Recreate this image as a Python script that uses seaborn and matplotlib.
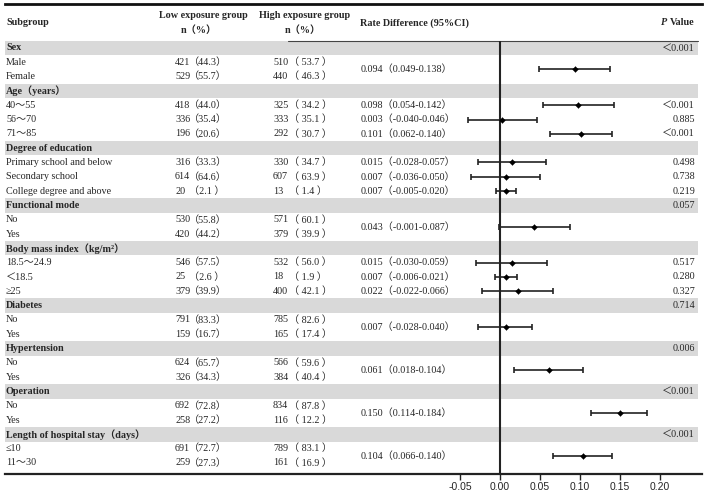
import numpy as np
import pandas as pd
import matplotlib
matplotlib.use('Agg')
import matplotlib.pyplot as plt
import seaborn as sns

# %% Dados da tabela
grupos = ['Sex', 'Age（years）', 'Degree of education', 'Functional mode',
          'Body mass index（kg/m²）', 'Diabetes', 'Hypertension', 'Operation',
          'Length of hospital stay（days）']
niveis = [['Male', 'Female'],
          ['40～55', '56～70', '71～85'],
          ['Primary school and below', 'Secondary school', 'College degree and above'],
          ['No', 'Yes'],
          ['18.5～24.9', '＜18.5', '≥25'],
          ['No', 'Yes'],
          ['No', 'Yes'],
          ['No', 'Yes'],
          ['≤10', '11～30']]

low_n = [421, 529, 418, 336, 196, 316, 614, 20, 530, 420, 546, 25, 379,
         791, 159, 624, 326, 692, 258, 691, 259]
low_pct = [44.3, 55.7, 44.0, 35.4, 20.6, 33.3, 64.6, 2.1, 55.8, 44.2, 57.5, 2.6, 39.9,
           83.3, 16.7, 65.7, 34.3, 72.8, 27.2, 72.7, 27.3]
high_n = [510, 440, 325, 333, 292, 330, 607, 13, 571, 379, 532, 18, 400,
          785, 165, 566, 384, 834, 116, 789, 161]
high_pct = [53.7, 46.3, 34.2, 35.1, 30.7, 34.7, 63.9, 1.4, 60.1, 39.9, 56.0, 1.9, 42.1,
            82.6, 17.4, 59.6, 40.4, 87.8, 12.2, 83.1, 16.9]

# diferenca de taxas: uma por grupo binario, uma por nivel nos outros
rd_est = [0.094, 0.098, 0.003, 0.101, 0.015, 0.007, 0.007, 0.043,
          0.015, 0.007, 0.022, 0.007, 0.061, 0.150, 0.104]
rd_low = [0.049, 0.054, -0.040, 0.062, -0.028, -0.036, -0.005, -0.001,
          -0.030, -0.006, -0.022, -0.028, 0.018, 0.114, 0.066]
rd_high = [0.138, 0.142, 0.046, 0.140, 0.057, 0.050, 0.020, 0.087,
           0.059, 0.021, 0.066, 0.040, 0.104, 0.184, 0.140]
p_txt = ['＜0.001', '＜0.001', '0.885', '＜0.001', '0.498', '0.738', '0.219', '0.057',
         '0.517', '0.280', '0.327', '0.714', '0.006', '＜0.001', '＜0.001']

xticks = [-0.05, 0.00, 0.05, 0.10, 0.15, 0.20]

# %% Montando as linhas
linhas = []      # (row, texto, negrito)
header_rows = []
lvl_rows = []
rd_rows = []
p_rows = []
r = 0
for g, lv in zip(grupos, niveis):
    linhas.append((r, g, True))
    header_rows.append(r)
    hr = r
    r += 1
    rows_g = []
    for nome in lv:
        linhas.append((r, nome, False))
        lvl_rows.append(r)
        rows_g.append(r)
        r += 1
    if len(lv) == 2:
        rd_rows.append(np.mean(rows_g))
        p_rows.append(hr)
    else:
        rd_rows.extend(rows_g)
        p_rows.extend(rows_g)

df_rd = pd.DataFrame({'row': rd_rows, 'est': rd_est, 'lo': rd_low, 'hi': rd_high})

# %% Plot
sns.set_theme(style='white')
plt.rcParams['font.family'] = ['Liberation Serif', 'Noto Sans CJK SC']

W, H = 708, 496
fig = plt.figure(figsize=(W / 100, H / 100), dpi=100)
x0, x1, y0, y1 = 5, 702, 4, 474
ax = fig.add_axes([x0 / W, 1 - y1 / H, (x1 - x0) / W, (y1 - y0) / H])

zero_px, per_unit = 500, 800
ax.set_xlim((x0 - zero_px) / per_unit, (x1 - zero_px) / per_unit)
row0_px, row_h = 48, 14.31
ax.set_ylim((y1 - row0_px) / row_h, (y0 - row0_px) / row_h)

def fx(px):
    return (px - x0) / (x1 - x0)

def fr(px):
    return (px - row0_px) / row_h

tr = ax.get_yaxis_transform()

# faixas cinzas
xl = ax.get_xlim()
ax.barh(header_rows, (698 - zero_px) / per_unit - xl[0], left=xl[0], height=1.0,
        color='#d9d9d9', edgecolor='none', zorder=0)
ax.plot([fx(288), fx(698)], [-0.5, -0.5], transform=tr, color='#444444', lw=0.8, zorder=1)

# linha vertical no zero
ax.vlines(0, -0.5, ax.get_ylim()[0], color='#222222', lw=1.5, zorder=2)

# intervalos de confianca
ax.errorbar(df_rd['est'], df_rd['row'],
            xerr=[df_rd['est'] - df_rd['lo'], df_rd['hi'] - df_rd['est']],
            fmt='none', ecolor='#222222', elinewidth=1.2, capsize=2.2, capthick=1.2, zorder=3)
sns.scatterplot(data=df_rd, x='est', y='row', marker='D', s=9, color='black',
                edgecolor='black', ax=ax, zorder=4, legend=False)

fs = 7.3
# cabecalho
ax.text(fx(6), fr(23), 'Subgroup', transform=tr, fontsize=fs, fontweight='bold', va='center')
ax.text(fx(203), fr(16), 'Low exposure group', transform=tr, fontsize=fs, fontweight='bold',
        ha='center', va='center')
ax.text(fx(199), fr(30), 'n（%）', transform=tr, fontsize=fs, fontweight='bold', ha='center', va='center')
ax.text(fx(305), fr(16), 'High exposure group', transform=tr, fontsize=fs, fontweight='bold',
        ha='center', va='center')
ax.text(fx(303), fr(30), 'n（%）', transform=tr, fontsize=fs, fontweight='bold', ha='center', va='center')
ax.text(fx(360), fr(23), 'Rate Difference (95%CI)', transform=tr, fontsize=fs, fontweight='bold',
        va='center')
t_val = ax.text(fx(695), fr(23), 'Value', transform=tr, fontsize=fs, fontweight='bold',
                ha='right', va='center')
fig.canvas.draw()
val_left = t_val.get_window_extent().x0 - 3
ax.text(fx(val_left), fr(23), 'P', transform=tr, fontsize=fs, fontweight='bold', style='italic',
        ha='right', va='center')

# subgrupos
for row, txt, neg in linhas:
    ax.text(fx(6), row, txt, transform=tr, fontsize=fs, va='center',
            fontweight='bold' if neg else 'normal')

# contagens
for row, ln, lp, hn, hp in zip(lvl_rows, low_n, low_pct, high_n, high_pct):
    ax.text(fx(175), row, str(ln), transform=tr, fontsize=fs, va='center')
    lp_s = f'（{lp:.1f}）' if lp >= 10 else f'（{lp:.1f} ）'
    ax.text(fx(189), row, lp_s, transform=tr, fontsize=fs, va='center')
    ax.text(fx(273), row, str(hn), transform=tr, fontsize=fs, va='center')
    ax.text(fx(289), row, f'（ {hp:.1f} ）', transform=tr, fontsize=fs, va='center')

# diferencas e valores p
for row, e, lo, hi in zip(rd_rows, rd_est, rd_low, rd_high):
    ax.text(fx(361), row, f'{e:.3f}（{lo:.3f}-{hi:.3f}）', transform=tr, fontsize=fs, va='center')
for row, p in zip(p_rows, p_txt):
    ax.text(fx(695), row, p, transform=tr, fontsize=fs, ha='right', va='center')

# eixos
ax.set_yticks([])
ax.set_xticks(xticks)
ax.set_xticklabels([f'{t:.2f}' for t in xticks], fontsize=7.5, family='Liberation Sans')
ax.tick_params(axis='x', direction='out', length=4, width=1, color='#222222', pad=2,
               bottom=True)
ax.set_xlabel('')
ax.set_ylabel('')
for s in ['left', 'right']:
    ax.spines[s].set_visible(False)
ax.spines['top'].set_linewidth(2)
ax.spines['top'].set_color('#111111')
ax.spines['bottom'].set_linewidth(1.6)
ax.spines['bottom'].set_color('#222222')

fig.savefig('out.png', dpi=100)
